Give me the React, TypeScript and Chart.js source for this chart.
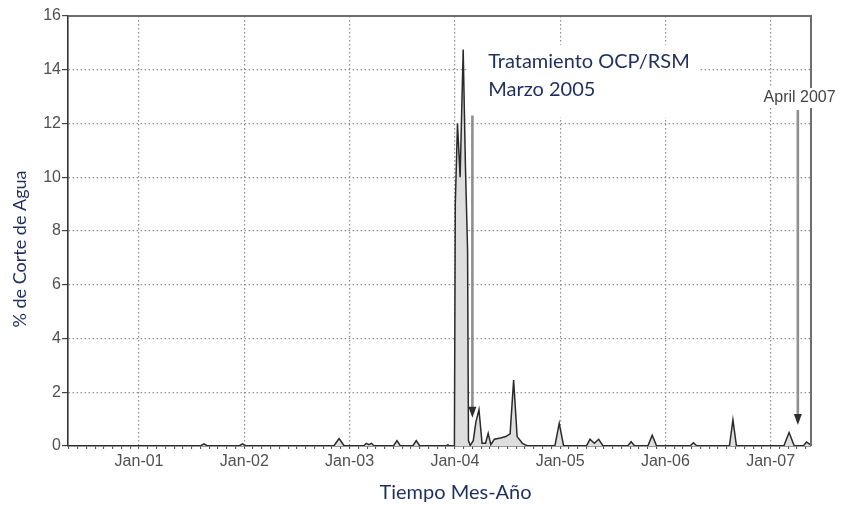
import React, { useEffect, useRef } from 'react';
import { Chart, registerables } from 'chart.js';

Chart.register(...registerables);

// Months counted from Jan-2000 (0 = Jan-2000, 12 = Jan-2001, ...)
const months = [
  4.0, 19.0, 19.4, 19.8, 23.4, 23.8, 24.2, 34.2, 34.8, 35.4,
  37.6, 37.9, 38.2, 38.5, 38.8, 41.0, 41.4, 41.8, 43.2, 43.6,
  44.0, 47.0, 47.2, 47.4, 47.95, 48.05, 48.3, 48.6, 48.95, 49.2,
  49.45, 49.55, 49.75, 50.1, 50.4, 50.75, 51.1, 51.5, 51.8, 52.1,
  52.5, 53.2, 53.8, 54.3, 54.7, 55.1, 55.7, 56.3, 59.4, 59.9,
  60.4, 63.0, 63.4, 63.9, 64.4, 64.9, 67.7, 68.1, 68.5, 70.0,
  70.5, 71.0, 74.8, 75.2, 75.6, 79.3, 79.7, 80.1, 85.5, 86.1,
  86.7, 87.7, 88.1, 88.5,
];
// % de corte de agua
const cut = [
  0, 0, 0.08, 0, 0, 0.08, 0, 0, 0.28, 0,
  0, 0.1, 0.05, 0.1, 0, 0, 0.2, 0, 0, 0.2,
  0, 0, 0.05, 0, 0, 9.0, 12.0, 10.0, 14.75, 10.5,
  7.3, 0.2, 0.02, 0.2, 0.9, 1.35, 0.1, 0.1, 0.47, 0.05,
  0.25, 0.3, 0.35, 0.45, 2.45, 0.35, 0.1, 0, 0, 0.84,
  0, 0, 0.25, 0.1, 0.25, 0, 0, 0.16, 0, 0,
  0.4, 0, 0, 0.12, 0, 0, 0.97, 0, 0, 0.5,
  0, 0, 0.15, 0.05,
];

const xMin = 3.9;
const xMax = 88.6;
const yearTickMonths = [12, 24, 36, 48, 60, 72, 84];
const yearTickLabels = ['Jan-01', 'Jan-02', 'Jan-03', 'Jan-04', 'Jan-05', 'Jan-06', 'Jan-07'];
const yMin = 0;
const yMax = 16;
const yStep = 2;

const xTitle = 'Tiempo Mes-Año';
const yTitle = '% de Corte de Agua';
const treatmentNote = ['Tratamiento OCP/RSM', 'Marzo 2005'];
const treatmentNoteAt = { month: 51.8, values: [14.3, 13.27] };
const treatmentArrow = { month: 50.0, from: 12.3, to: 1.05 };
const aprilNote = 'April 2007';
const aprilNoteAt = { month: 87.3, value: 12.95 };
const aprilArrow = { month: 87.1, from: 12.5, to: 0.78 };

const monthTicks: number[] = [];
for (let m = Math.ceil(xMin); m <= Math.floor(xMax); m++) monthTicks.push(m);

const NAVY = '#1f2e5e';
const GRID = '#8c8c8c';
const NOTE_FONT = '20px Lato';

function drawArrow(ctx: CanvasRenderingContext2D, x: number, y1: number, y2: number) {
  ctx.save();
  ctx.strokeStyle = '#8f8f8f';
  ctx.lineWidth = 2.6;
  ctx.beginPath();
  ctx.moveTo(x, y1);
  ctx.lineTo(x, y2 - 9);
  ctx.stroke();
  ctx.fillStyle = '#2e2e2e';
  ctx.beginPath();
  ctx.moveTo(x - 4, y2 - 11);
  ctx.lineTo(x + 4, y2 - 11);
  ctx.lineTo(x, y2);
  ctx.closePath();
  ctx.fill();
  ctx.restore();
}

const decorPlugin = {
  id: 'decor',
  beforeDatasetsDraw(chart: any) {
    // white box behind the treatment note, hiding the grid there
    const { ctx, scales } = chart;
    const x = scales.x;
    const y = scales.y;
    ctx.save();
    ctx.font = NOTE_FONT;
    const tx = x.getPixelForValue(treatmentNoteAt.month);
    const w = Math.max(...treatmentNote.map((t) => ctx.measureText(t).width));
    const y1 = y.getPixelForValue(treatmentNoteAt.values[0]);
    const y2 = y.getPixelForValue(treatmentNoteAt.values[treatmentNote.length - 1]);
    ctx.fillStyle = '#ffffff';
    ctx.fillRect(tx - 20, y1 - 17, w + 30, y2 - y1 + 45);
    ctx.restore();
  },
  afterDraw(chart: any) {
    const { ctx, chartArea: a, scales } = chart;
    const x = scales.x;
    const y = scales.y;
    ctx.save();
    // top and right frame
    ctx.strokeStyle = '#6e6e6e';
    ctx.lineWidth = 2;
    ctx.beginPath();
    ctx.moveTo(a.left, a.top);
    ctx.lineTo(a.right, a.top);
    ctx.lineTo(a.right, a.bottom);
    ctx.stroke();

    // arrows
    drawArrow(ctx, x.getPixelForValue(treatmentArrow.month), y.getPixelForValue(treatmentArrow.from), y.getPixelForValue(treatmentArrow.to));
    drawArrow(ctx, x.getPixelForValue(aprilArrow.month), y.getPixelForValue(aprilArrow.from), y.getPixelForValue(aprilArrow.to));

    // treatment note
    ctx.fillStyle = NAVY;
    ctx.font = NOTE_FONT;
    ctx.textAlign = 'left';
    ctx.textBaseline = 'middle';
    treatmentNote.forEach((t, i) => {
      ctx.fillText(t, x.getPixelForValue(treatmentNoteAt.month), y.getPixelForValue(treatmentNoteAt.values[i]));
    });

    // April note with white background
    ctx.font = '16px "Liberation Sans"';
    ctx.textAlign = 'center';
    const ax = x.getPixelForValue(aprilNoteAt.month);
    const ay = y.getPixelForValue(aprilNoteAt.value);
    const w = ctx.measureText(aprilNote).width;
    ctx.fillStyle = '#ffffff';
    ctx.fillRect(ax - w / 2 - 1, ay - 10, w + 2, 20);
    ctx.fillStyle = '#444444';
    ctx.fillText(aprilNote, ax, ay);

    // axis titles
    ctx.fillStyle = NAVY;
    ctx.font = '20px Lato';
    ctx.textAlign = 'center';
    ctx.fillText(xTitle, (a.left + a.right) / 2 + 16, chart.height - 13);
    ctx.font = '18px Lato';
    ctx.translate(20.5, (a.top + a.bottom) / 2 + 18);
    ctx.rotate(-Math.PI / 2);
    ctx.fillText(yTitle, 0, 0);
    ctx.restore();
  },
};

export default function App() {
  const ref = useRef<HTMLCanvasElement | null>(null);
  useEffect(() => {
    if (!ref.current) return;
    Chart.defaults.font.family = '"Liberation Sans", Arial, sans-serif';
    const chart = new Chart(ref.current, {
      type: 'line',
      data: {
        datasets: [
          {
            data: months.map((m, i) => ({ x: m, y: cut[i] })),
            borderColor: '#2a2a2a',
            borderWidth: 1.5,
            backgroundColor: '#dedede',
            fill: 'origin',
            pointRadius: 0,
            tension: 0,
          },
        ],
      },
      options: {
        responsive: false,
        animation: false,
        devicePixelRatio: 1,
        layout: { padding: { left: 0, top: 16, right: 31, bottom: 0 } },
        plugins: { legend: { display: false }, tooltip: { enabled: false } },
        scales: {
          x: {
            type: 'linear',
            min: xMin,
            max: xMax,
            afterBuildTicks: (s: any) => {
              s.ticks = monthTicks.map((v) => ({ value: v }));
            },
            afterFit: (s: any) => {
              s.height = 60;
            },
            ticks: {
              autoSkip: false,
              maxRotation: 0,
              minRotation: 0,
              padding: 3,
              color: '#505050',
              font: { size: 16 },
              callback: (v: any) => {
                const i = yearTickMonths.indexOf(Number(v));
                return i >= 0 ? yearTickLabels[i] : '';
              },
            },
            grid: {
              color: (c: any) => (c.tick && yearTickMonths.includes(c.tick.value) ? GRID : 'rgba(0,0,0,0)'),
              lineWidth: 1.2,
              tickColor: '#444444',
              tickLength: 3,
              tickWidth: 1,
            },
            border: { display: true, color: '#333333', width: 1.6, dash: [1.5, 2.5] },
          },
          y: {
            min: yMin,
            max: yMax,
            afterFit: (s: any) => {
              s.width = 68;
            },
            ticks: {
              stepSize: yStep,
              padding: 1,
              color: '#505050',
              font: { size: 16 },
            },
            grid: {
              color: (c: any) => (c.tick && (c.tick.value === yMin || c.tick.value === yMax) ? 'rgba(0,0,0,0)' : GRID),
              lineWidth: 1.2,
              tickColor: '#444444',
              tickLength: 6,
              tickWidth: 1.2,
            },
            border: { display: true, color: '#333333', width: 1.6, dash: [1.5, 2.5] },
          },
        },
      },
      plugins: [decorPlugin],
    });
    return () => chart.destroy();
  }, []);
  return (
    <div style={{ position: 'fixed', left: 0, top: 0, width: 842, height: 506, background: '#fff' }}>
      <canvas ref={ref} width={842} height={506} />
    </div>
  );
}
